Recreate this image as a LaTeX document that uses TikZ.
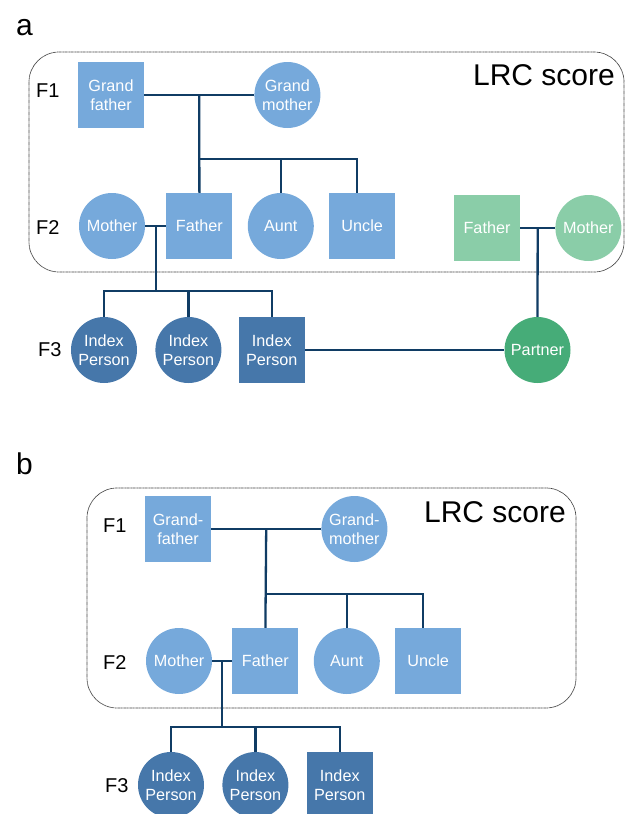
\documentclass[tikz,border=0pt]{standalone}
\usepackage{fontspec}
\setmainfont{Liberation Sans}
\usetikzlibrary{positioning,calc}
\definecolor{navy}{RGB}{16,60,100}
\definecolor{lblue}{RGB}{118,169,219}
\definecolor{dblue}{RGB}{70,119,170}
\definecolor{lgreen}{RGB}{138,205,168}
\definecolor{dgreen}{RGB}{70,172,120}
\tikzset{
  male/.style={rectangle,fill=lblue,text=white,minimum size=66pt,inner sep=0pt,
               align=center,font=\fontsize{16.2}{19.5}\selectfont},
  female/.style={male,circle},
  indexmale/.style={male,fill=dblue},
  indexfemale/.style={female,fill=dblue},
  inlawmale/.style={male,fill=lgreen},
  inlawfemale/.style={female,fill=lgreen},
  partner/.style={female,fill=dgreen},
  link/.style={draw=navy,line width=2.3pt},
  lrcbox/.style={draw=black!75,line width=0.7pt,dash pattern=on 0.8pt off 0.4pt,
                 rounded corners=30pt},
  gen/.style={anchor=base west,inner sep=0pt,font=\fontsize{20}{20}\selectfont},
  panel/.style={inner sep=0pt,font=\fontsize{30}{30}\selectfont}
}

\begin{document}
\begin{tikzpicture}[x=1pt,y=-1pt,node distance=15pt]
  \useasboundingbox (0,0) rectangle (629,814);

  \node[panel,anchor=base west] (laba) at (16,35) {a};
  \draw[lrcbox] (29,52) rectangle (624,272);
  \node[panel,anchor=base east] (lrca) at (615,85) {LRC score};
  \node[gen] (f1a) at (36,97) {F1};
  \node[gen] (f2a) at (36,234) {F2};
  \node[gen] (f3a) at (38,356) {F3};

  \node[male] (gfa) at (111,95) {Grand\\father};
  \node[female,right=110pt of gfa] (gma) {Grand\\mother};
  \node[female] (moa) at (112,226) {Mother};
  \node[male,right=21pt of moa] (faa) {Father};
  \node[female,right=of faa] (aua) {Aunt};
  \node[male,right=of aua] (una) {Uncle};
  \node[inlawmale] (pfa) at (487,228) {Father};
  \node[inlawfemale,right=35pt of pfa] (pma) {Mother};
  \node[indexfemale] (ia1) at (104,350) {Index\\Person};
  \node[indexfemale,right=18pt of ia1] (ia2) {Index\\Person};
  \node[indexmale,right=17pt of ia2] (ia3) {Index\\Person};
  \node[partner] (pta) at (537.5,350) {Partner};

  \coordinate (mga) at ($(gfa.east)!0.5!(gma.west)$);
  \coordinate (sba) at (mga |- 0,159);
  \coordinate (mfa) at ($(moa.east)!0.5!(faa.west)$);
  \coordinate (cba) at (mfa |- 0,291);
  \coordinate (mpa) at ($(pfa.east)!0.5!(pma.west)$);
  \draw[link] (gfa) -- (gma);
  \draw[link] (mga) -- (faa.north);
  \draw[link] (sba) -| (aua.north);
  \draw[link] (sba) -| ([xshift=-5pt]una.north);
  \draw[link] (moa) -- (faa);
  \draw[link] (mfa) -- (cba);
  \draw[link] (ia1.north) |- (cba) -| (ia3.north);
  \draw[link] (ia2.north) -- (ia2.north |- cba);
  \draw[link] (pfa) -- (pma);
  \draw[link] (mpa) -- (pta.north);
  \draw[link] (ia3) -- (pta);

  \node[panel,anchor=base west] (labb) at (16,474) {b};
  \draw[lrcbox] (87,488) rectangle (576,708);
  \node[panel,anchor=base east] (lrcb) at (566,522) {LRC score};
  \node[gen] (f1b) at (103,532) {F1};
  \node[gen] (f2b) at (103,669) {F2};
  \node[gen] (f3b) at (105,792) {F3};

  \node[male] (gfb) at (178,529) {Grand-\\father};
  \node[female,right=110pt of gfb] (gmb) {Grand-\\mother};
  \node[female] (mob) at (179,661) {Mother};
  \node[male,right=20pt of mob] (fab) {Father};
  \node[female,right=of fab] (aub) {Aunt};
  \node[male,right=of aub] (unb) {Uncle};
  \node[indexfemale] (ib1) at (171,785) {Index\\Person};
  \node[indexfemale,right=18pt of ib1] (ib2) {Index\\Person};
  \node[indexmale,right=18pt of ib2] (ib3) {Index\\Person};

  \coordinate (mgb) at ($(gfb.east)!0.5!(gmb.west)$);
  \coordinate (sbb) at (mgb |- 0,594);
  \coordinate (mfb) at ($(mob.east)!0.5!(fab.west)$);
  \coordinate (cbb) at (mfb |- 0,727);
  \draw[link] (gfb) -- (gmb);
  \draw[link] (mgb) -- (fab.north);
  \draw[link] (sbb) -| (aub.north);
  \draw[link] (sbb) -| ([xshift=-5pt]unb.north);
  \draw[link] (mob) -- (fab);
  \draw[link] (mfb) -- (cbb);
  \draw[link] (ib1.north) |- (cbb) -| (ib3.north);
  \draw[link] (ib2.north) -- (ib2.north |- cbb);
\end{tikzpicture}
\end{document}
